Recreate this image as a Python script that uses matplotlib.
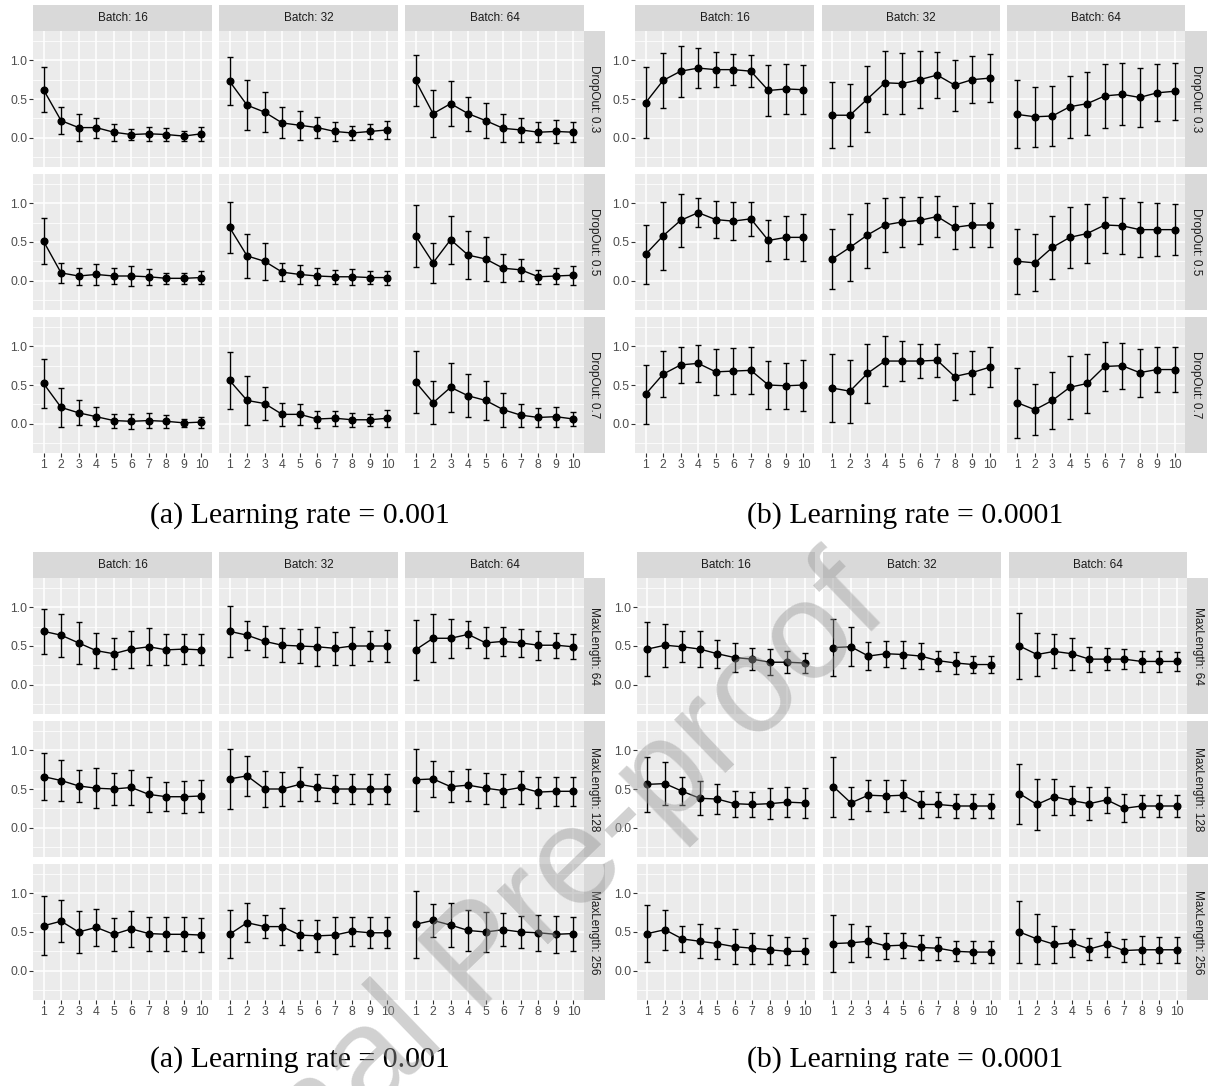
import matplotlib
matplotlib.use("Agg")
import matplotlib.pyplot as plt
import numpy as np

plt.rcParams['font.family'] = ['Liberation Sans', 'DejaVu Sans']

# ---------------- data ----------------
epochs = list(range(1, 11))
batches = ["16", "32", "64"]
dropouts = ["0.3", "0.5", "0.7"]
maxlens = ["64", "128", "256"]

# (a) Learning rate = 0.001, DropOut facets; each row: [batch16, batch32, batch64]
A_mean_d03 = [[0.62, 0.22, 0.13, 0.13, 0.07, 0.04, 0.05, 0.04, 0.02, 0.05],
              [0.73, 0.42, 0.33, 0.19, 0.16, 0.13, 0.08, 0.06, 0.08, 0.10],
              [0.74, 0.31, 0.44, 0.31, 0.22, 0.12, 0.10, 0.07, 0.08, 0.07]]
A_err_d03 = [[0.29, 0.17, 0.17, 0.13, 0.11, 0.07, 0.09, 0.08, 0.06, 0.09],
             [0.31, 0.32, 0.26, 0.20, 0.19, 0.14, 0.12, 0.09, 0.10, 0.12],
             [0.33, 0.30, 0.29, 0.22, 0.23, 0.18, 0.16, 0.13, 0.15, 0.13]]
A_mean_d05 = [[0.51, 0.10, 0.06, 0.08, 0.06, 0.06, 0.05, 0.03, 0.03, 0.04],
              [0.69, 0.32, 0.25, 0.11, 0.08, 0.06, 0.05, 0.05, 0.04, 0.04],
              [0.58, 0.23, 0.53, 0.33, 0.28, 0.16, 0.14, 0.05, 0.06, 0.07]]
A_err_d05 = [[0.30, 0.13, 0.11, 0.14, 0.10, 0.13, 0.10, 0.07, 0.07, 0.08],
             [0.33, 0.28, 0.24, 0.12, 0.12, 0.11, 0.09, 0.10, 0.08, 0.09],
             [0.40, 0.26, 0.31, 0.31, 0.29, 0.18, 0.14, 0.09, 0.10, 0.12]]
A_mean_d07 = [[0.52, 0.21, 0.14, 0.09, 0.04, 0.03, 0.04, 0.03, 0.01, 0.02],
              [0.56, 0.30, 0.26, 0.12, 0.12, 0.06, 0.07, 0.05, 0.05, 0.07],
              [0.54, 0.27, 0.47, 0.36, 0.30, 0.18, 0.11, 0.08, 0.09, 0.06]]
A_err_d07 = [[0.32, 0.25, 0.16, 0.12, 0.09, 0.10, 0.10, 0.08, 0.05, 0.07],
             [0.37, 0.32, 0.21, 0.15, 0.14, 0.11, 0.10, 0.09, 0.08, 0.11],
             [0.40, 0.28, 0.32, 0.28, 0.25, 0.22, 0.15, 0.12, 0.13, 0.09]]

# (b) Learning rate = 0.0001, DropOut facets
B_mean_d03 = [[0.45, 0.74, 0.86, 0.90, 0.88, 0.88, 0.86, 0.61, 0.63, 0.62],
              [0.29, 0.29, 0.50, 0.71, 0.70, 0.75, 0.81, 0.68, 0.75, 0.77],
              [0.30, 0.27, 0.28, 0.40, 0.44, 0.54, 0.56, 0.52, 0.58, 0.60]]
B_err_d03 = [[0.46, 0.36, 0.33, 0.26, 0.23, 0.20, 0.21, 0.33, 0.32, 0.32],
             [0.43, 0.40, 0.43, 0.41, 0.40, 0.37, 0.30, 0.33, 0.30, 0.31],
             [0.44, 0.39, 0.39, 0.40, 0.41, 0.41, 0.40, 0.38, 0.37, 0.37]]
B_mean_d05 = [[0.34, 0.58, 0.78, 0.88, 0.79, 0.77, 0.80, 0.52, 0.56, 0.56],
              [0.28, 0.43, 0.59, 0.72, 0.76, 0.78, 0.83, 0.69, 0.72, 0.72],
              [0.25, 0.23, 0.43, 0.56, 0.61, 0.72, 0.71, 0.66, 0.66, 0.66]]
B_err_d05 = [[0.38, 0.44, 0.34, 0.19, 0.24, 0.25, 0.22, 0.27, 0.28, 0.30],
             [0.39, 0.43, 0.42, 0.35, 0.32, 0.30, 0.27, 0.28, 0.29, 0.29],
             [0.42, 0.37, 0.41, 0.39, 0.38, 0.36, 0.36, 0.36, 0.34, 0.33]]
B_mean_d07 = [[0.38, 0.64, 0.76, 0.78, 0.67, 0.68, 0.69, 0.50, 0.49, 0.50],
              [0.46, 0.42, 0.65, 0.81, 0.81, 0.81, 0.82, 0.61, 0.66, 0.73],
              [0.27, 0.18, 0.30, 0.47, 0.52, 0.74, 0.75, 0.66, 0.70, 0.70]]
B_err_d07 = [[0.38, 0.30, 0.23, 0.24, 0.30, 0.30, 0.30, 0.31, 0.30, 0.33],
             [0.44, 0.41, 0.38, 0.32, 0.26, 0.22, 0.21, 0.30, 0.28, 0.26],
             [0.45, 0.33, 0.37, 0.41, 0.38, 0.32, 0.30, 0.31, 0.29, 0.29]]

# (a) Learning rate = 0.001, MaxLength facets
C_mean_m64 = [[0.69, 0.64, 0.54, 0.44, 0.40, 0.46, 0.49, 0.45, 0.46, 0.45],
              [0.69, 0.64, 0.56, 0.51, 0.50, 0.49, 0.47, 0.50, 0.50, 0.50],
              [0.45, 0.60, 0.60, 0.65, 0.54, 0.56, 0.54, 0.51, 0.51, 0.49]]
C_err_m64 = [[0.29, 0.28, 0.27, 0.23, 0.20, 0.24, 0.24, 0.20, 0.19, 0.20],
             [0.33, 0.19, 0.20, 0.22, 0.22, 0.25, 0.21, 0.24, 0.19, 0.21],
             [0.39, 0.31, 0.25, 0.18, 0.20, 0.19, 0.18, 0.19, 0.16, 0.16]]
C_mean_m128 = [[0.66, 0.61, 0.54, 0.51, 0.50, 0.52, 0.43, 0.40, 0.40, 0.41],
               [0.63, 0.67, 0.50, 0.50, 0.56, 0.52, 0.50, 0.50, 0.50, 0.50],
               [0.62, 0.63, 0.53, 0.55, 0.51, 0.48, 0.52, 0.46, 0.47, 0.47]]
C_err_m128 = [[0.30, 0.26, 0.21, 0.26, 0.21, 0.23, 0.23, 0.19, 0.21, 0.21],
              [0.39, 0.26, 0.23, 0.22, 0.22, 0.17, 0.18, 0.19, 0.20, 0.20],
              [0.40, 0.23, 0.20, 0.21, 0.20, 0.21, 0.21, 0.20, 0.19, 0.19]]
C_mean_m256 = [[0.58, 0.64, 0.50, 0.56, 0.47, 0.54, 0.48, 0.47, 0.47, 0.46],
               [0.47, 0.62, 0.57, 0.57, 0.46, 0.45, 0.46, 0.51, 0.49, 0.49],
               [0.60, 0.65, 0.59, 0.52, 0.50, 0.53, 0.50, 0.49, 0.47, 0.48]]
C_err_m256 = [[0.38, 0.27, 0.27, 0.24, 0.21, 0.23, 0.22, 0.22, 0.22, 0.22],
              [0.31, 0.25, 0.15, 0.24, 0.19, 0.21, 0.24, 0.19, 0.20, 0.20],
              [0.43, 0.21, 0.28, 0.27, 0.26, 0.21, 0.21, 0.23, 0.24, 0.22]]

# (b) Learning rate = 0.0001, MaxLength facets
D_mean_m64 = [[0.46, 0.51, 0.49, 0.46, 0.40, 0.35, 0.33, 0.29, 0.29, 0.28],
              [0.48, 0.49, 0.37, 0.40, 0.39, 0.37, 0.31, 0.28, 0.26, 0.26],
              [0.50, 0.39, 0.43, 0.40, 0.33, 0.33, 0.33, 0.30, 0.30, 0.30]]
D_err_m64 = [[0.35, 0.28, 0.20, 0.23, 0.18, 0.19, 0.14, 0.17, 0.14, 0.13],
             [0.37, 0.25, 0.18, 0.17, 0.17, 0.17, 0.13, 0.14, 0.11, 0.11],
             [0.43, 0.28, 0.22, 0.21, 0.16, 0.14, 0.13, 0.13, 0.13, 0.12]]
D_mean_m128 = [[0.56, 0.57, 0.47, 0.38, 0.37, 0.31, 0.30, 0.31, 0.33, 0.32],
               [0.53, 0.32, 0.42, 0.41, 0.42, 0.30, 0.30, 0.28, 0.28, 0.28],
               [0.44, 0.30, 0.40, 0.35, 0.31, 0.36, 0.25, 0.28, 0.28, 0.28]]
D_err_m128 = [[0.36, 0.28, 0.18, 0.22, 0.19, 0.17, 0.16, 0.20, 0.19, 0.19],
              [0.39, 0.21, 0.20, 0.21, 0.20, 0.18, 0.16, 0.15, 0.16, 0.15],
              [0.39, 0.33, 0.23, 0.19, 0.21, 0.17, 0.18, 0.14, 0.14, 0.14]]
D_mean_m256 = [[0.48, 0.53, 0.41, 0.38, 0.35, 0.31, 0.29, 0.27, 0.25, 0.25],
               [0.35, 0.36, 0.38, 0.32, 0.33, 0.30, 0.29, 0.25, 0.24, 0.24],
               [0.50, 0.41, 0.34, 0.36, 0.28, 0.34, 0.26, 0.27, 0.27, 0.27]]
D_err_m256 = [[0.37, 0.26, 0.17, 0.22, 0.20, 0.23, 0.20, 0.19, 0.18, 0.17],
              [0.37, 0.25, 0.20, 0.17, 0.16, 0.16, 0.15, 0.13, 0.14, 0.14],
              [0.40, 0.32, 0.24, 0.18, 0.14, 0.16, 0.15, 0.18, 0.17, 0.17]]

captions = ["(a) Learning rate = 0.001", "(b) Learning rate = 0.0001"]
watermark = "Journal Pre-proof"

# ---------------- layout / style ----------------
W, H = 1208, 1086
fig = plt.figure(figsize=(W / 100, H / 100), dpi=100)

PANEL_BG = "#EBEBEB"
STRIP_BG = "#D9D9D9"
TICK_TXT = "#4D4D4D"
STRIP_TXT = "#1A1A1A"
YLIM = (-0.38, 1.38)


def add_ax(x0, y0, x1, y1):
    return fig.add_axes([x0 / W, 1 - y1 / H, (x1 - x0) / W, (y1 - y0) / H])


def strip(x0, y0, x1, y1, text, rot=0):
    s = add_ax(x0, y0, x1, y1)
    s.set_facecolor(STRIP_BG)
    s.set_xticks([]); s.set_yticks([])
    for sp in s.spines.values():
        sp.set_visible(False)
    s.text(0.5, 0.5, text, ha="center", va="center", rotation=rot,
           fontsize=8.5, color=STRIP_TXT, transform=s.transAxes)


def draw_grid(cols, strip_x, strip_top, rows, row_prefix, row_levels, means, errs):
    for i, (y0, y1) in enumerate(rows):
        for j, (x0, x1) in enumerate(cols):
            ax = add_ax(x0, y0, x1, y1)
            ax.set_facecolor(PANEL_BG)
            for sp in ax.spines.values():
                sp.set_visible(False)
            ax.set_xlim(0.4, 10.6)
            ax.set_ylim(*YLIM)
            ax.set_xticks(epochs)
            ax.set_yticks([0.0, 0.5, 1.0])
            ax.set_yticks([-0.25, 0.25, 0.75, 1.25], minor=True)
            ax.set_yticklabels(["0.0", "0.5", "1.0"])
            ax.grid(True, which="major", color="white", lw=1.1)
            ax.grid(True, which="minor", axis="y", color="white", lw=0.55)
            ax.set_axisbelow(True)
            ax.tick_params(which="minor", length=0)
            ax.tick_params(which="major", length=2.6, width=0.8, color="#333333",
                           labelsize=8.8, labelcolor=TICK_TXT, pad=1.5)
            if j != 0:
                ax.tick_params(axis="y", length=0, labelleft=False)
            if i != len(rows) - 1:
                ax.tick_params(axis="x", length=0, labelbottom=False)
            ax.errorbar(epochs, means[i][j], yerr=errs[i][j], fmt="o-", color="black",
                        ms=4.8, lw=1.0, elinewidth=1.0, capsize=2.4, capthick=1.0)
            if i == 0:
                strip(x0, strip_top, x1, y0, "Batch: " + batches[j])
        strip(strip_x[0], y0, strip_x[1], y1, row_prefix + row_levels[i], rot=-90)


cols_L = [(33, 212), (219, 398), (405, 584)]
cols_R_top = [(635, 814), (822, 1000), (1007, 1185)]
cols_R_bot = [(637, 815), (823, 1001), (1009, 1187)]
rows_top = [(31, 167), (174, 310), (317, 453)]
rows_bot = [(578, 714), (721, 857), (864, 1000)]

draw_grid(cols_L, (584, 605), 5, rows_top, "DropOut: ", dropouts,
          [A_mean_d03, A_mean_d05, A_mean_d07], [A_err_d03, A_err_d05, A_err_d07])
draw_grid(cols_R_top, (1185, 1207), 5, rows_top, "DropOut: ", dropouts,
          [B_mean_d03, B_mean_d05, B_mean_d07], [B_err_d03, B_err_d05, B_err_d07])
draw_grid(cols_L, (584, 605), 552, rows_bot, "MaxLength: ", maxlens,
          [C_mean_m64, C_mean_m128, C_mean_m256], [C_err_m64, C_err_m128, C_err_m256])
draw_grid(cols_R_bot, (1187, 1208), 552, rows_bot, "MaxLength: ", maxlens,
          [D_mean_m64, D_mean_m128, D_mean_m256], [D_err_m64, D_err_m128, D_err_m256])

# captions
for yc in (516, 1060):
    fig.text(300 / W, 1 - yc / H, captions[0], ha="center", va="center",
             family=["Liberation Serif", "DejaVu Serif"], fontsize=21.5, color="black")
    fig.text(905 / W, 1 - yc / H, captions[1], ha="center", va="center",
             family=["Liberation Serif", "DejaVu Serif"], fontsize=21.5, color="black")

# watermark
fig.text(120 / W, 1 - 1358 / H, watermark, ha="left", va="baseline", rotation=44,
         rotation_mode="anchor", fontsize=100, color="#999999", alpha=0.45, zorder=100)

fig.savefig("out.png", dpi=100)
